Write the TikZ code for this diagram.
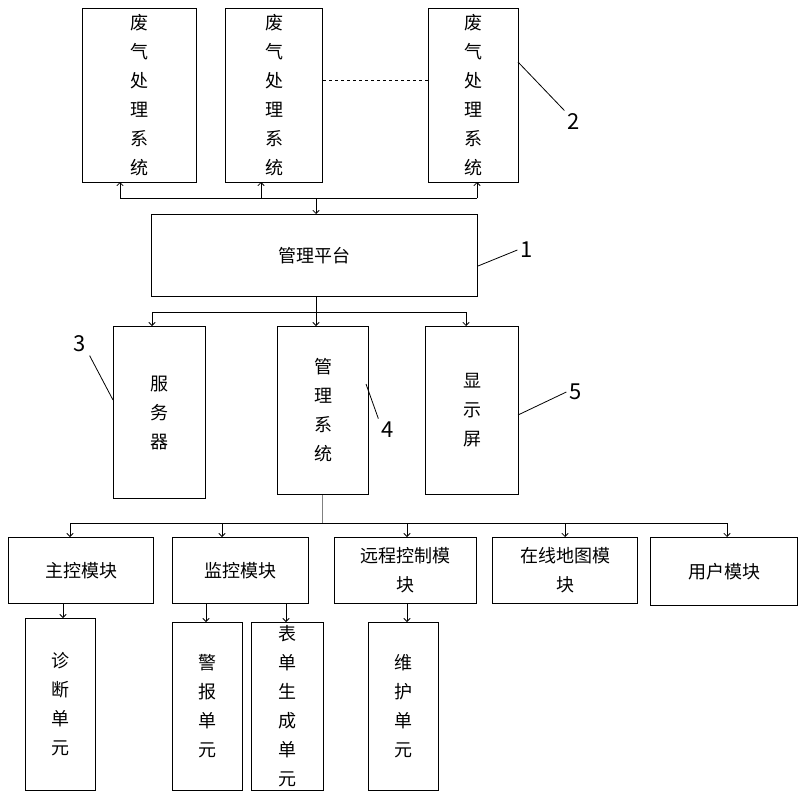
\documentclass[tikz,border=0pt]{standalone}
\usepackage{fontspec}
\setmainfont{Noto Sans CJK SC}
\usetikzlibrary{arrows}
\tikzset{
  box/.style={draw=black, line width=1pt, anchor=north west, inner sep=0pt,
    align=center, font=\fontsize{18}{29}\selectfont},
  arrow/.style={line width=0.8pt, ->, >=angle 90},
  wire/.style={line width=0.8pt},
  tag/.style={font=\fontsize{22}{24}\selectfont}
}
\newcommand{\boxat}[6]{% name, x, y, w, h, text
  \node (#1) [box, minimum width=#4pt, minimum height=#5pt] at (#2,#3) {#6};}
\begin{document}
\begin{tikzpicture}[x=1pt, y=-1pt]
    \useasboundingbox (0,0) rectangle (806,803);

    % waste gas systems
    \boxat{gasA}{82}{8}{114}{174}{废\\气\\处\\理\\系\\统}
    \boxat{gasB}{225}{8}{97}{174}{废\\气\\处\\理\\系\\统}
    \boxat{gasC}{428}{8}{90}{174}{废\\气\\处\\理\\系\\统}
    \draw [wire, dashed] (gasB.east |- 0,80) -- (gasC.west |- 0,80);

    % platform
    \boxat{plat}{151}{214}{326}{82}{管理平台}

    \boxat{serv}{113}{326}{92}{172}{服\\务\\器}
    \boxat{mgmt}{277}{326}{91}{168}{管\\理\\系\\统}
    \boxat{disp}{425}{326}{93}{168}{显\\示\\屏}

    % modules
    \boxat{mainM}{8}{537}{145}{66}{主控模块}
    \boxat{monM}{172}{537}{136}{66}{监控模块}
    \boxat{remM}{334}{537}{142}{66}{远程控制模\\块}
    \boxat{mapM}{492}{537}{145}{66}{在线地图模\\块}
    \boxat{userM}{650}{537}{147}{68}{用户模块}

    % units
    \boxat{diagU}{25}{618}{70}{172}{诊\\断\\单\\元}
    \boxat{alarmU}{172}{622}{70}{168}{警\\报\\单\\元}
    \boxat{formU}{251}{622}{72}{168}{表\\单\\生\\成\\单\\元}
    \boxat{maintU}{368}{622}{70}{168}{维\\护\\单\\元}

    % platform to systems
    \coordinate (top) at (316,198);
    \draw [wire] (120,198) -- (477,198);
    \draw [arrow] (top) -- (top |- plat.north);
    \draw [arrow] (120,198) -- (120,182);
    \draw [arrow] (261,198) -- (261,182);
    \draw [arrow] (477,198) -- (477,182);

    % platform to server, system, screen
    \draw [wire] (plat.south -| 316,0) -- (316,312);
    \draw [wire] (152,312) -- (466,312);
    \draw [arrow] (152,312) -- (serv.north -| 152,0);
    \draw [arrow] (316,312) -- (mgmt.north -| 316,0);
    \draw [arrow] (466,312) -- (disp.north -| 466,0);

    % system to modules
    \draw [wire, gray] (mgmt.south -| 322,0) -- (322,523);
    \draw [wire] (70,523) -- (727,523);
    \foreach \m/\x in {mainM/70, monM/222, remM/407, mapM/565, userM/727}
        \draw [arrow] (\x,523) -- (\m.north -| \x,0);

    % modules to units
    \draw [arrow] (mainM.south -| 63,0) -- (diagU.north -| 63,0);
    \draw [arrow] (monM.south -| 206,0) -- (alarmU.north -| 206,0);
    \draw [arrow] (monM.south -| 286,0) -- (formU.north -| 286,0);
    \draw [arrow] (remM.south -| 407,0) -- (maintU.north -| 407,0);

    % reference numerals
    \node (n1) [tag] at (527,250) {1};
    \node (n2) [tag] at (574,122) {2};
    \node (n3) [tag] at (80,344) {3};
    \node (n4) [tag] at (388,430) {4};
    \node (n5) [tag] at (576,392) {5};
    \draw [wire] (478,266) -- (n1.west);
    \draw [wire] (518,62) -- (n2.north west);
    \draw [wire] (n3.south east) -- (113,400);
    \draw [wire] (366,384) -- (n4.north west);
    \draw [wire] (518,415) -- (n5.west);
\end{tikzpicture}
\end{document}
